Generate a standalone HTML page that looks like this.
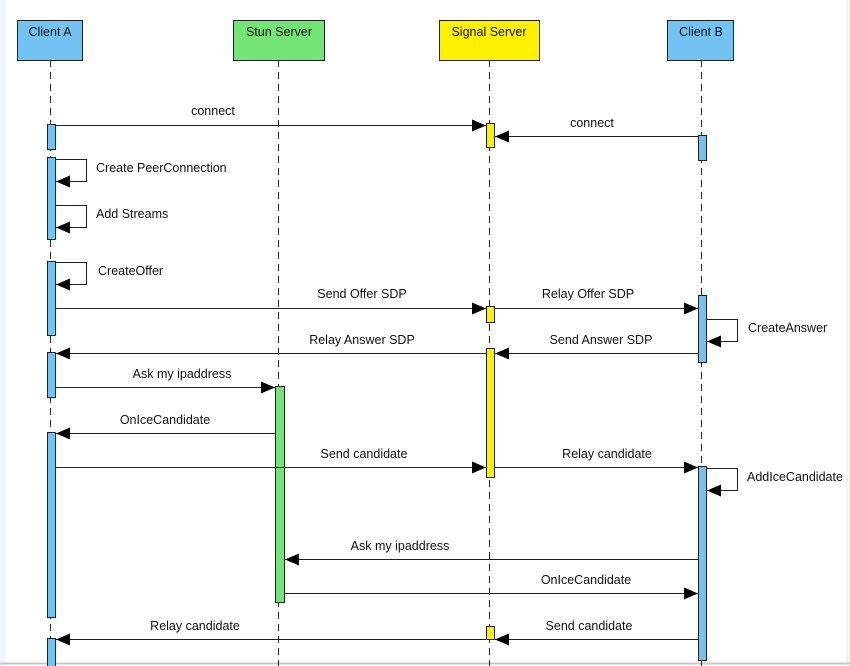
<!DOCTYPE html>
<html><head><meta charset="utf-8"><style>
html,body{margin:0;padding:0;background:#fff;}
svg{display:block;font-family:"Liberation Sans",Arial,sans-serif;}
text{font-size:12.5px;fill:#111;}
</style></head><body>
<svg width="850" height="666" viewBox="0 0 850 666" xmlns="http://www.w3.org/2000/svg">
<defs>
<marker id="ar" markerWidth="14" markerHeight="12" refX="14" refY="6" orient="auto" markerUnits="userSpaceOnUse">
<path d="M0,0 L14,6 L0,12 z" fill="#000"/></marker>
</defs>
<rect x="0" y="0" width="6" height="666" fill="#f3f5f8"/>
<rect x="846" y="0" width="4" height="666" fill="#f3f5f8"/>
<line x1="0" y1="663.5" x2="850" y2="663.5" stroke="#c8c8c8" stroke-width="2"/>
<g stroke="#222" stroke-width="1" stroke-dasharray="7,5">
<line x1="50.5" y1="60" x2="50.5" y2="666"/>
<line x1="278.5" y1="60" x2="278.5" y2="666"/>
<line x1="489.5" y1="60" x2="489.5" y2="666"/>
<line x1="701.5" y1="60" x2="701.5" y2="666"/>
</g>
<g stroke="#222" stroke-width="1">
<rect x="17.5" y="20.5" width="65" height="40" fill="#72c3f2"/>
<rect x="233.5" y="20.5" width="91" height="40" fill="#74e477"/>
<rect x="439.5" y="20.5" width="100" height="40" fill="#fff200"/>
<rect x="667.5" y="20.5" width="66" height="40" fill="#72c3f2"/>
</g>
<text x="50" y="36" text-anchor="middle">Client A</text>
<text x="279" y="36" text-anchor="middle">Stun Server</text>
<text x="489" y="36" text-anchor="middle">Signal Server</text>
<text x="701" y="36" text-anchor="middle">Client B</text>
<g stroke="#222" stroke-width="1">
<rect x="47.5" y="124.5" width="8" height="25" fill="#72c3f2"/>
<rect x="47.5" y="157.5" width="8" height="82" fill="#72c3f2"/>
<rect x="47.5" y="261.5" width="8" height="74" fill="#72c3f2"/>
<rect x="47.5" y="352.5" width="8" height="45" fill="#72c3f2"/>
<rect x="47.5" y="432.5" width="8" height="185" fill="#72c3f2"/>
<rect x="47.5" y="638.5" width="8" height="30" fill="#72c3f2"/>
<rect x="275.5" y="386.5" width="9" height="216" fill="#74e477"/>
<rect x="486.5" y="123.5" width="8" height="24" fill="#fff200"/>
<rect x="486.5" y="306.5" width="8" height="16" fill="#fff200"/>
<rect x="486.5" y="348.5" width="8" height="129" fill="#fff200"/>
<rect x="486.5" y="626.5" width="8" height="13" fill="#fff200"/>
<rect x="698.5" y="135.5" width="8" height="25" fill="#72c3f2"/>
<rect x="698.5" y="295.5" width="8" height="67" fill="#72c3f2"/>
<rect x="698.5" y="466.5" width="8" height="194" fill="#72c3f2"/>
</g>
<g stroke="#222" stroke-width="1" fill="none" marker-end="url(#ar)">
<line x1="56" y1="125.5" x2="486" y2="125.5"/>
<line x1="698" y1="136.5" x2="495" y2="136.5"/>
<path d="M56,159.5 H86.5 V181.5 H56"/>
<path d="M56,205.5 H86.5 V227.5 H56"/>
<path d="M56,262.5 H86.5 V284.5 H56"/>
<line x1="56" y1="308.5" x2="486" y2="308.5"/>
<line x1="495" y1="308.5" x2="698" y2="308.5"/>
<path d="M707,319.5 H737.5 V341.5 H707"/>
<line x1="698" y1="353.5" x2="495" y2="353.5"/>
<line x1="486" y1="353.5" x2="56" y2="353.5"/>
<line x1="56" y1="387.5" x2="275" y2="387.5"/>
<line x1="275" y1="433.5" x2="56" y2="433.5"/>
<line x1="56" y1="467.5" x2="486" y2="467.5"/>
<line x1="495" y1="467.5" x2="698" y2="467.5"/>
<path d="M707,468.5 H737.5 V490.5 H707"/>
<line x1="698" y1="559.5" x2="285" y2="559.5"/>
<line x1="285" y1="593.5" x2="698" y2="593.5"/>
<line x1="698" y1="639.5" x2="495" y2="639.5"/>
<line x1="486" y1="639.5" x2="56" y2="639.5"/>
</g>
<text x="213" y="115" text-anchor="middle">connect</text>
<text x="592" y="127" text-anchor="middle">connect</text>
<text x="96" y="172">Create PeerConnection</text>
<text x="96" y="218">Add Streams</text>
<text x="98" y="275">CreateOffer</text>
<text x="362" y="298" text-anchor="middle">Send Offer SDP</text>
<text x="588" y="298" text-anchor="middle">Relay Offer SDP</text>
<text x="748" y="332">CreateAnswer</text>
<text x="601" y="344" text-anchor="middle">Send Answer SDP</text>
<text x="362" y="344" text-anchor="middle">Relay Answer SDP</text>
<text x="182" y="378" text-anchor="middle">Ask my ipaddress</text>
<text x="165" y="424" text-anchor="middle">OnIceCandidate</text>
<text x="364" y="458" text-anchor="middle">Send candidate</text>
<text x="607" y="458" text-anchor="middle">Relay candidate</text>
<text x="747" y="481">AddIceCandidate</text>
<text x="400" y="550" text-anchor="middle">Ask my ipaddress</text>
<text x="586" y="584" text-anchor="middle">OnIceCandidate</text>
<text x="589" y="630" text-anchor="middle">Send candidate</text>
<text x="195" y="630" text-anchor="middle">Relay candidate</text>
</svg>
</body></html>
